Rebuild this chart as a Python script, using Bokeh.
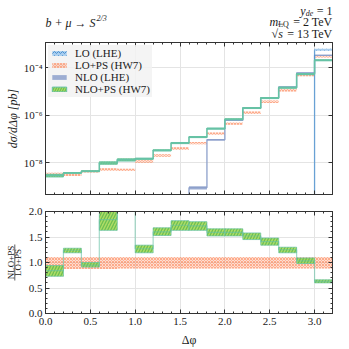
import numpy as np
from math import pi
from bokeh.plotting import figure
from bokeh.layouts import column, row
from bokeh.models import (ColumnDataSource, Range1d, FixedTicker, LinearAxis, LogAxis,
                          NumeralTickFormatter, Legend, LegendItem)
from bokeh.core.properties import value
from bokeh.embed import file_html
from bokeh.resources import INLINE

# ---------------- data ----------------
bin_edges = [0.0, 0.2, 0.4, 0.6, 0.8, 1.0, 1.2, 1.4, 1.6, 1.8, 2.0, 2.2, 2.4, 2.6, 2.8, 3.0, 3.2]

lo_lhe = [0, 0, 0, 0, 0, 0, 0, 0, 0, 0, 0, 0, 0, 0, 0, 5.9e-4]
lo_lhe_rel = [0, 0, 0, 0, 0, 0, 0, 0, 0, 0, 0, 0, 0, 0, 0, 0.09]

lo_ps = [3.5e-9, 3.2e-9, 4.5e-9, 5.4e-9, 5.2e-9, 1.17e-8, 2.1e-8, 4.1e-8,
         6.9e-8, 1.74e-7, 4.6e-7, 1.32e-6, 3.8e-6, 1.17e-5, 5.1e-5, 3.1e-4]
lo_ps_up = [0.11, 0.11, 0.11, 0.11, 0.11, 0.11, 0.11, 0.11,
            0.11, 0.11, 0.11, 0.11, 0.11, 0.11, 0.11, 0.11]
lo_ps_dn = [0.125, 0.125, 0.125, 0.125, 0.12, 0.12, 0.12, 0.12,
            0.12, 0.12, 0.12, 0.12, 0.12, 0.12, 0.12, 0.12]

nlo_lhe = [0, 0, 0, 0, 0, 0, 0, 0, 9.1e-10, 9.5e-8, 6.2e-7, 2.1e-6,
           5.6e-6, 1.58e-5, 6.2e-5, 3.4e-4]
nlo_lhe_rel = [0, 0, 0, 0, 0, 0, 0, 0, 0.16, 0.06, 0.05, 0.05,
               0.05, 0.05, 0.05, 0.05]

nlo_ps = [2.95e-9, 3.8e-9, 4.5e-9, 1.0e-8, 1.35e-8, 1.51e-8, 3.4e-8, 6.9e-8,
          1.23e-7, 2.8e-7, 6.9e-7, 2.04e-6, 5.4e-6, 1.48e-5, 5.5e-5, 2.1e-4]

ratio = [0.84, 1.24, 0.95, 1.84, 2.57, 1.27, 1.60, 1.73,
         1.72, 1.59, 1.59, 1.52, 1.41, 1.25, 1.03, 0.63]
ratio_lo = [0.73, 1.19, 0.91, 1.63, 2.30, 1.19, 1.53, 1.63,
            1.63, 1.52, 1.52, 1.45, 1.34, 1.19, 0.98, 0.60]
ratio_hi = [0.94, 1.28, 1.00, 2.05, 2.85, 1.34, 1.68, 1.82,
            1.80, 1.66, 1.66, 1.58, 1.48, 1.30, 1.09, 0.66]

x_major = [0.0, 0.5, 1.0, 1.5, 2.0, 2.5, 3.0]
x_minor = [0.1, 0.2, 0.3, 0.4, 0.6, 0.7, 0.8, 0.9, 1.1, 1.2, 1.3, 1.4, 1.6, 1.7, 1.8, 1.9,
           2.1, 2.2, 2.3, 2.4, 2.6, 2.7, 2.8, 2.9, 3.1, 3.2]
y_top_ticks = [1e-8, 1e-6, 1e-4]
y_top_labels = ["10\u207b\u2078", "10\u207b\u2076", "10\u207b\u2074"]
y_bot_major = [0.0, 0.5, 1.0, 1.5, 2.0]
y_bot_minor = [0.1, 0.2, 0.3, 0.4, 0.6, 0.7, 0.8, 0.9, 1.1, 1.2, 1.3, 1.4, 1.6, 1.7, 1.8, 1.9]

legend_labels = ["LO (LHE)", "LO+PS (HW7)", "NLO (LHE)", "NLO+PS (HW7)"]

# ---------------- style ----------------
FONT = "Liberation Serif"
TEAL = "#66c2a5"
ORANGE = "#fc8d62"
PURPLE = "#8da0cb"
GREEN = "#a6d854"
BLUE = "#4a90d0"
AX = "#333333"
TXT = "#1a1a1a"

Y_TOP = (4.7e-10, 1.18e-3)
FLOOR = 1e-11


def band_source(vals, dn, up):
    l, r, b, t = [], [], [], []
    for i, v in enumerate(vals):
        if v > 0:
            l.append(bin_edges[i]); r.append(bin_edges[i + 1])
            b.append(v * (1 - dn[i])); t.append(v * (1 + up[i]))
    return ColumnDataSource(dict(left=l, right=r, bottom=b, top=t))


def step_xy(vals, floor=None):
    xs, ys = [], []
    for i, v in enumerate(vals):
        if v <= 0 and floor is not None:
            v = floor
        xs += [bin_edges[i], bin_edges[i + 1]]
        ys += [v, v]
    return xs, ys


def style_axis(ax, labels=True):
    ax.major_tick_in = 4
    ax.major_tick_out = 0
    ax.minor_tick_in = 2
    ax.minor_tick_out = 0
    ax.axis_line_color = AX
    ax.major_tick_line_color = AX
    ax.minor_tick_line_color = AX
    ax.major_label_text_font = FONT
    ax.major_label_text_color = TXT
    if labels:
        ax.major_label_text_font_size = "11px"
        ax.major_label_standoff = 3
    else:
        ax.major_label_text_font_size = "1px"
        ax.major_label_text_alpha = 0
        ax.major_label_standoff = 0


def blank(width, height, xr, yr, top=0, bottom=0):
    f = figure(width=width, height=height, x_range=Range1d(*xr), y_range=Range1d(*yr),
               output_backend="svg", toolbar_location=None, x_axis_location=None,
               y_axis_location=None, min_border_left=0, min_border_right=0,
               min_border_top=top, min_border_bottom=bottom)
    f.outline_line_color = None
    f.xgrid.visible = False
    f.ygrid.visible = False
    return f


def txt(f, x, y, s, size=12, style="normal", align="left", baseline="alphabetic", angle=0.0):
    f.text(x=[x], y=[y], text=[s], text_font=value(FONT), text_font_size=f"{size}px",
           text_font_style=style, text_align=align, text_baseline=baseline,
           text_color=TXT, angle=angle)


# ---------------- header (page pixel coordinates, y up from page y=41) ----------------
HH = 41
H = blank(349, HH, (0, 349), (0, HH))
R = 332
txt(H, 45, HH - 22.5, "b + \u03bc \u2192 S", 12, "italic")
txt(H, 96, HH - 17.5, "2/3", 8, "italic")

txt(H, R, HH - 10.5, "= 1", 12, align="right")
txt(H, R - 19.3, HH - 13.2, "de", 8, "italic", align="right")
txt(H, R - 26.9, HH - 10.5, "y", 12, "italic", align="right")

txt(H, R, HH - 21.5, "= 2 TeV", 12, align="right")
txt(H, R - 43.6, HH - 24.2, "LQ", 8, align="right")
txt(H, R - 54.3, HH - 21.5, "m", 12, "italic", align="right")

txt(H, R, HH - 33, "= 13 TeV", 12, align="right")
txt(H, R - 49.6, HH - 33, "s", 12, "italic", align="right")
txt(H, R - 54.3, HH - 33, "\u221a", 12, align="right")
H.segment(x0=[R - 54.8], y0=[HH - 33 + 9.3], x1=[R - 49.0], y1=[HH - 33 + 9.3],
          line_color=TXT, line_width=0.6)

# ---------------- top panel ----------------
p1 = figure(width=329, height=159, x_range=Range1d(0, 3.2), y_range=Range1d(*Y_TOP),
            y_axis_type="log", output_backend="svg", toolbar_location=None,
            min_border_left=25, min_border_right=17, min_border_top=1, min_border_bottom=6)
p1.outline_line_color = AX
p1.xaxis.ticker = FixedTicker(ticks=x_major, minor_ticks=x_minor)
p1.yaxis.ticker = FixedTicker(ticks=y_top_ticks, minor_ticks=[])
p1.yaxis.major_label_overrides = dict(zip(y_top_ticks, y_top_labels))
style_axis(p1.xaxis[0], labels=False)
style_axis(p1.yaxis[0], labels=True)
top_ax = LinearAxis(ticker=FixedTicker(ticks=x_major, minor_ticks=x_minor))
style_axis(top_ax, labels=False)
p1.add_layout(top_ax, "above")
right_ax = LogAxis(ticker=FixedTicker(ticks=y_top_ticks, minor_ticks=[]))
style_axis(right_ax, labels=False)
p1.add_layout(right_ax, "right")
for g in (p1.xgrid, p1.ygrid):
    g.grid_line_color = "#e4e4e4"
    g.grid_line_width = 1
p1.xgrid.ticker = FixedTicker(ticks=x_major)
p1.ygrid.ticker = FixedTicker(ticks=y_top_ticks)

r_lops = p1.quad(source=band_source(lo_ps, lo_ps_dn, lo_ps_up), left="left", right="right",
                 bottom="bottom", top="top", fill_color=ORANGE, fill_alpha=0.3,
                 hatch_pattern="diagonal_cross", hatch_color=ORANGE, hatch_scale=3,
                 hatch_weight=0.7, hatch_alpha=0.9, line_color=None)
x, y = step_xy(nlo_lhe, FLOOR)
p1.line(x, y, line_color=PURPLE, line_width=1.3)
r_nlolhe = p1.quad(source=band_source(nlo_lhe, nlo_lhe_rel, nlo_lhe_rel), left="left",
                   right="right", bottom="bottom", top="top", fill_color=PURPLE,
                   fill_alpha=0.85, line_color=None)
x, y = step_xy(lo_lhe, FLOOR)
p1.line(x, y, line_color=BLUE, line_width=1.3, line_alpha=0.8)
r_lolhe = p1.quad(source=band_source(lo_lhe, lo_lhe_rel, lo_lhe_rel), left="left",
                  right="right", bottom="bottom", top="top", fill_color="#a8cdee",
                  fill_alpha=1.0, hatch_pattern="horizontal_wave", hatch_color=BLUE,
                  hatch_scale=4, hatch_weight=1, line_color=None)
nlo_ps_rel = [(ratio_hi[i] - ratio_lo[i]) / (2 * ratio[i]) for i in range(len(ratio))]
r_nlops = p1.quad(source=band_source(nlo_ps, nlo_ps_rel, nlo_ps_rel), left="left",
                  right="right", bottom="bottom", top="top", fill_color=GREEN,
                  fill_alpha=0.9, hatch_pattern="right_diagonal_line", hatch_color="#6cbf52",
                  hatch_scale=5, hatch_weight=1.2, line_color=TEAL, line_width=1)
x, y = step_xy(nlo_ps)
p1.line(x, y, line_color=TEAL, line_width=1.6)

legend = Legend(items=[LegendItem(label=legend_labels[0], renderers=[r_lolhe]),
                       LegendItem(label=legend_labels[1], renderers=[r_lops]),
                       LegendItem(label=legend_labels[2], renderers=[r_nlolhe]),
                       LegendItem(label=legend_labels[3], renderers=[r_nlops])],
                location="top_left")
legend.margin = 3
legend.padding = 2
legend.spacing = 0
legend.glyph_width = 18
legend.glyph_height = 6
legend.label_height = 11
legend.label_standoff = 7
legend.label_text_font = FONT
legend.label_text_font_size = "11px"
legend.label_text_color = TXT
legend.background_fill_color = "#f2f2f2"
legend.background_fill_alpha = 0.85
legend.border_line_alpha = 0
p1.add_layout(legend)

L1 = blank(20, 159, (0, 20), (0, 1), top=1, bottom=6)
txt(L1, 12.5, 0.5, "d\u03c3/d\u0394\u03c6 [pb]", 12, "italic", align="center",
    baseline="middle", angle=pi / 2)

# ---------------- ratio panel ----------------
p2 = figure(width=325, height=130, x_range=p1.x_range, y_range=Range1d(0, 2.0),
            output_backend="svg", toolbar_location=None,
            min_border_left=21, min_border_right=17, min_border_top=11, min_border_bottom=17)
p2.outline_line_color = AX
p2.xaxis.ticker = FixedTicker(ticks=x_major, minor_ticks=x_minor)
p2.yaxis.ticker = FixedTicker(ticks=y_bot_major, minor_ticks=y_bot_minor)
p2.xaxis.formatter = NumeralTickFormatter(format="0.0")
p2.yaxis.formatter = NumeralTickFormatter(format="0.0")
style_axis(p2.xaxis[0], labels=True)
style_axis(p2.yaxis[0], labels=True)
p2.xaxis.major_label_standoff = 4
top2 = LinearAxis(ticker=FixedTicker(ticks=x_major, minor_ticks=x_minor))
style_axis(top2, labels=False)
p2.add_layout(top2, "above")
right2 = LinearAxis(ticker=FixedTicker(ticks=y_bot_major, minor_ticks=y_bot_minor))
style_axis(right2, labels=False)
p2.add_layout(right2, "right")
for g in (p2.xgrid, p2.ygrid):
    g.grid_line_color = "#e4e4e4"
    g.grid_line_width = 1
p2.xgrid.ticker = FixedTicker(ticks=x_major)
p2.ygrid.ticker = FixedTicker(ticks=y_bot_major)

ones = [1.0] * len(lo_ps)
p2.quad(source=band_source(ones, lo_ps_dn, lo_ps_up), left="left", right="right",
        bottom="bottom", top="top", fill_color=ORANGE, fill_alpha=0.3,
        hatch_pattern="diagonal_cross", hatch_color=ORANGE, hatch_scale=3,
        hatch_weight=0.7, hatch_alpha=0.9, line_color=None)
rsrc = ColumnDataSource(dict(left=bin_edges[:-1], right=bin_edges[1:],
                             bottom=ratio_lo, top=ratio_hi))
p2.quad(source=rsrc, left="left", right="right", bottom="bottom", top="top",
        fill_color=GREEN, fill_alpha=0.9, hatch_pattern="right_diagonal_line",
        hatch_color="#6cbf52", hatch_scale=6, hatch_weight=1.3,
        line_color=TEAL, line_alpha=0.7, line_width=1)
x, y = step_xy(ratio)
p2.line(x, y, line_color=TEAL, line_width=1.2, line_alpha=0.6)

L2 = blank(24, 130, (0, 24), (0, 102), top=11, bottom=17)
txt(L2, 10.8, 51, "NLO+PS", 9, align="center", baseline="middle", angle=pi / 2)
txt(L2, 17.8, 51, "LO+PS", 9, align="center", baseline="middle", angle=pi / 2)
L2.segment(x0=[14.3], y0=[33], x1=[14.3], y1=[69], line_color=TXT, line_width=0.7)

# ---------------- footer ----------------
F = blank(349, 19, (0, 349), (0, 19))
txt(F, 188.5, 9.5, "\u0394\u03c6", 12, align="center")

layout = column(H, row(L1, p1), row(L2, p2), F)
open("out.html", "w").write(file_html(layout, INLINE))
